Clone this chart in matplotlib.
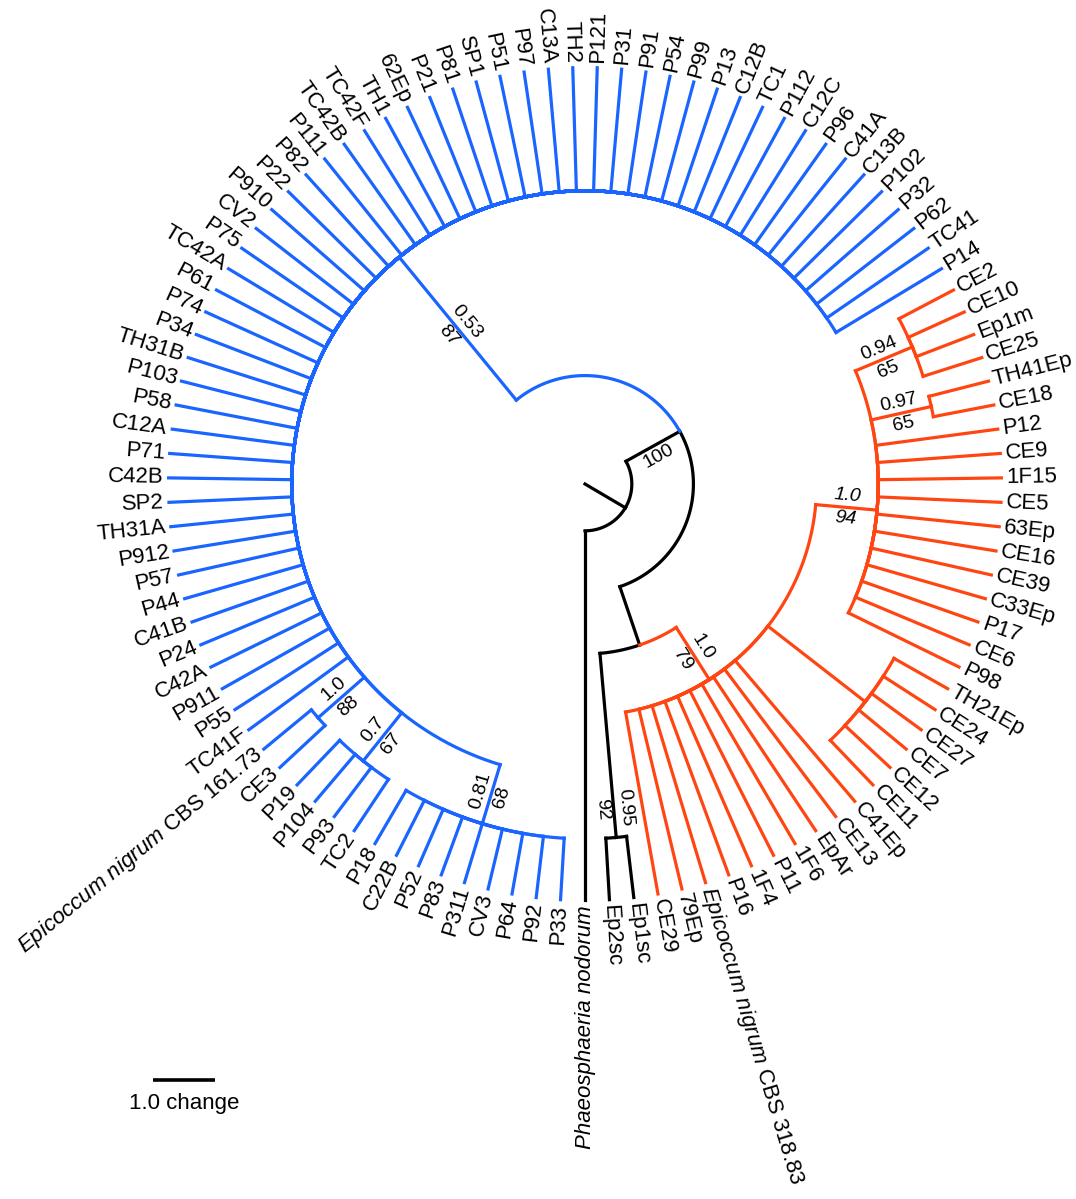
import numpy as np
import matplotlib.pyplot as plt

plt.rcParams['font.family'] = ['Liberation Sans', 'DejaVu Sans']
plt.rcParams['mathtext.fontset'] = 'custom'
plt.rcParams['mathtext.it'] = 'Liberation Sans:italic'
plt.rcParams['mathtext.rm'] = 'Liberation Sans'

BLUE = '#1a64ff'
ORANGE = '#ff4612'
PX = 61.6             # pixels per change
CENTER = (585, 484)   # pixel position of the root
W, H = 1076, 1199
LW = 2.3

# tip names, counter-clockwise from the outgroup
outgroup = ["Phaeosphaeria nodorum"]
ep_sc = ["Ep2sc", "Ep1sc"]
orange_basal = ["CE29", "79Ep", r"$\mathit{Epicoccum\ nigrum}$ CBS 318.83", "P16", "1F4",
                "P11", "1F6", "EpAr", "CE13", "C41Ep"]
ce_group = ["CE11", "CE12", "CE7", "CE27", "CE24", "TH21Ep"]
clade94_tips = ["P98", "CE6", "P17", "C33Ep", "CE39", "CE16", "63Ep", "CE5", "1F15",
                "CE9", "P12"]
clade97_tips = ["CE18", "TH41Ep"]
clade94b_tips = ["CE25", "Ep1m", "CE10", "CE2"]
blue_basal = ["P14", "TC41", "P62", "P32", "P102", "C13B", "C41A", "P96", "C12C", "P112",
              "TC1", "C12B", "P13", "P99", "P54", "P91", "P31", "P121", "TH2", "C13A",
              "P97", "P51", "SP1", "P81", "P21", "62Ep", "TH1", "TC42F", "TC42B", "P111",
              "P82", "P22", "P910", "CV2", "P75", "TC42A", "P61", "P74", "P34", "TH31B",
              "P103", "P58", "C12A", "P71", "C42B", "SP2", "TH31A", "P912", "P57", "P44",
              "C41B", "P24", "C42A", "P911", "P55", "TC41F"]
clade88_tips = [r"$\mathit{Epicoccum\ nigrum}$ CBS 161.73", "CE3"]
clade67_tips = ["P19", "P104", "P93", "TC2"]
clade68_tips = ["P18", "C22B", "P52", "P83", "P311", "CV3", "P64", "P92", "P33"]

# branch lengths (changes) and support values (posterior, bootstrap)
ROOT_LENGTH = 0.76


def tips(names, length):
    return [{'name': n, 'length': length, 'children': []} for n in names]


def clade(children, length, support=None, color=None, italic=False, label_at=0.5):
    return {'children': children, 'length': length, 'support': support,
            'color': color, 'italic': italic, 'label_at': label_at}


c97 = clade(tips(clade97_tips, 1), 1, ('0.97', '65'))
c94b = clade(tips(clade94b_tips, 1), 1, ('0.94', '65'))
c94 = clade(tips(clade94_tips, 2) + [c97, c94b], 1, ('1.0', '94'), italic=True)
ceg = clade(tips(ce_group, 1), 2)
orange = clade(tips(orange_basal, 3) + [ceg, c94], 1, ('1.0', '79'), color=ORANGE)
ep = clade(tips(ep_sc, 1), 3, ('0.95', '92'), label_at=0.84)
n2 = clade([ep, orange], 1)
c88 = clade(tips(clade88_tips, 1), 1, ('1.0', '88'))
c67 = clade(tips(clade67_tips, 1), 1, ('0.7', '67'))
c68 = clade(tips(clade68_tips, 1), 1, ('0.81', '68'))
blue = clade(tips(blue_basal, 2) + [c88, c67, c68], 3, ('0.53', '87'), color=BLUE)
n1 = clade([n2, blue], 1, (None, '100'))
root = clade(tips(outgroup, 6) + [n1], ROOT_LENGTH)


def count_tips(node):
    if not node['children']:
        return 1
    return sum(count_tips(c) for c in node['children'])


N_TIPS = count_tips(root)


def layout(node, depth, color, counter):
    node['r0'] = depth
    node['r'] = depth + node['length']
    node['col'] = node.get('color') or color
    if not node['children']:
        node['angle'] = -90 + counter[0] * 360.0 / N_TIPS
        counter[0] += 1
    else:
        for ch in node['children']:
            layout(ch, node['r'], node['col'], counter)
        node['angle'] = np.mean([ch['angle'] for ch in node['children']])


layout(root, 0.0, 'black', [0])

fig = plt.figure(figsize=(W / 100, H / 100), dpi=100)
ax = fig.add_axes([0, 0, 1, 1])
ax.set_xlim(-CENTER[0] / PX, (W - CENTER[0]) / PX)
ax.set_ylim(-(H - CENTER[1]) / PX, CENTER[1] / PX)
ax.axis('off')


def polar(r, a):
    t = np.radians(a)
    return r * np.cos(t), r * np.sin(t)


def right_side(a):
    a = (a + 90) % 360 - 90
    return -90 < a < 90


def support_labels(node):
    post, boot = node['support']
    a = node['angle']
    r = node['r0'] + node['label_at'] * (node['r'] - node['r0'])
    d = 11.5 / PX
    if right_side(a):
        rot, up, down = a, a + 90, a - 90
    else:
        rot, up, down = a - 180, a - 90, a + 90
    x, y = polar(r, a)
    style = 'italic' if node['italic'] else 'normal'
    for txt, side in ((post, up), (boot, down)):
        if txt is None:
            continue
        dx, dy = polar(d, side)
        ax.text(x + dx, y + dy, txt, fontsize=14, fontstyle=style, rotation=rot,
                rotation_mode='anchor', ha='center', va='center')


def draw(node):
    a = node['angle']
    x0, y0 = polar(node['r0'], a)
    x1, y1 = polar(node['r'], a)
    ax.plot([x0, x1], [y0, y1], color=node['col'], lw=LW, solid_capstyle='projecting')
    if not node['children']:
        x, y = polar(node['r'] + 5 / PX, a)
        italic = node['name'] == outgroup[0]
        if right_side(a):
            rot, ha = a, 'left'
        else:
            rot, ha = a - 180, 'right'
        ax.text(x, y, node['name'], fontsize=16, rotation=rot, rotation_mode='anchor',
                ha=ha, va='center', fontstyle='italic' if italic else 'normal')
        return
    for ch in node['children']:
        t = np.linspace(a, ch['angle'], 80)
        xs, ys = polar(node['r'], t)
        ax.plot(xs, ys, color=ch['col'], lw=LW, solid_capstyle='projecting')
        draw(ch)
    if node.get('support'):
        support_labels(node)


draw(root)

# scale bar
bar_x, bar_y = (153 - CENTER[0]) / PX, (CENTER[1] - 1080) / PX
ax.plot([bar_x, bar_x + 1.0], [bar_y, bar_y], color='black', lw=2.6, solid_capstyle='butt')
ax.text(bar_x + 0.5, bar_y - 23 / PX, '1.0 change', fontsize=16, ha='center', va='center')

fig.savefig('out.png', dpi=100)
